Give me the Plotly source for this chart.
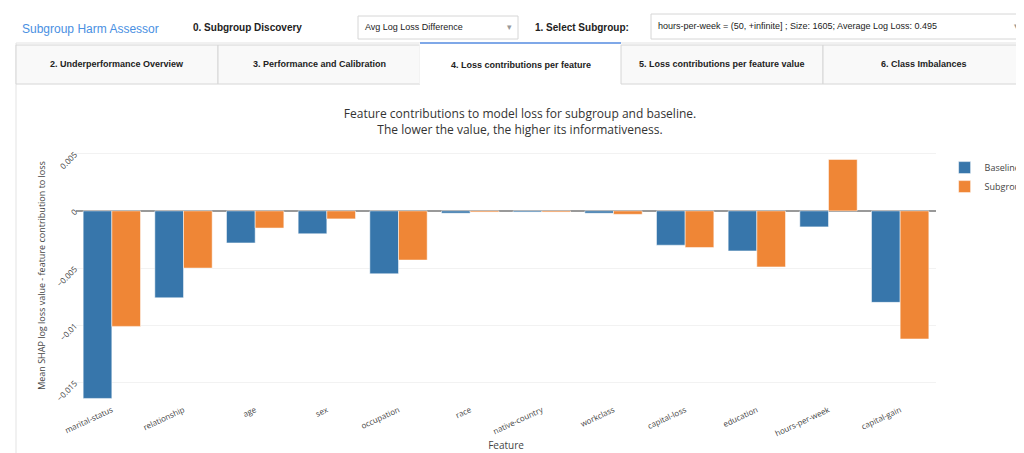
import plotly.graph_objects as go

features = ["marital-status", "relationship", "age", "sex", "occupation", "race",
            "native-country", "workclass", "capital-loss", "education",
            "hours-per-week", "capital-gain"]
baseline = [-0.0164, -0.0076, -0.0028, -0.0020, -0.0055, -0.0002,
            -0.0001, -0.0002, -0.0030, -0.0035, -0.0014, -0.0080]
subgroup = [-0.0101, -0.0050, -0.0015, -0.0007, -0.0043, -0.0001,
            -0.0001, -0.0003, -0.0032, -0.0049, 0.0045, -0.0112]

W, H = 1024, 453
L, R, T, B = 68, 96, 140, 58

def px(x):
    return (x - L) / (W - L - R)

def py(y):
    return (H - B - y) / (H - T - B)

fig = go.Figure()
fig.add_bar(x=features, y=baseline, name="Baseline", marker_color="#3776ab",
            marker_line=dict(color="white", width=0.5))
fig.add_bar(x=features, y=subgroup, name="Subgroup", marker_color="#ef8636",
            marker_line=dict(color="white", width=0.5))

shapes = []
def rect(x0, y0, x1, y1, fill="white", line="#dddddd", w=1):
    shapes.append(dict(type="rect", xref="paper", yref="paper", layer="below",
                       x0=px(x0), x1=px(x1), y0=py(y1), y1=py(y0),
                       fillcolor=fill, line=dict(color=line, width=w)))

# outer frame of the tab content
rect(8, 35, 1016, 452, line="#e3e3e3")
# tabs
tabs = ["2. Underperformance Overview", "3. Performance and Calibration",
        "4. Loss contributions per feature", "5. Loss contributions per feature value",
        "6. Class Imbalances"]
edges = [8, 210, 412, 613, 815, 1016]
ann = []
for i, t in enumerate(tabs):
    active = i == 2
    rect(edges[i], 35 if active else 37, edges[i + 1], 76,
         fill="white" if active else "#f9f9f9",
         line="white" if active else "#d6d6d6")
    ann.append(dict(text=f"<b>{t}</b>",
                    x=px((edges[i] + edges[i + 1]) / 2), y=py(56 if not active else 57),
                    xref="paper", yref="paper", showarrow=False,
                    xanchor="center", yanchor="middle",
                    font=dict(size=9, color="#222", family="Liberation Sans Narrow, Liberation Sans")))
shapes.append(dict(type="line", xref="paper", yref="paper",
                   x0=px(412), x1=px(613), y0=py(35), y1=py(35),
                   line=dict(color="#7fa8e8", width=2)))
# dropdowns
rect(350, 8, 510, 31, line="#d6d6d6")
rect(643, 6, 1015, 31, line="#d6d6d6")

def text(t, x, y, size=11, color="#222", anchor="left"):
    ann.append(dict(text=t, x=px(x), y=py(y), xref="paper", yref="paper",
                    showarrow=False, xanchor=anchor, yanchor="middle",
                    font=dict(size=size, color=color, family="Liberation Sans")))

text("Subgroup Harm Assessor", 12, 21, 12, "#4a90e2")
text("<b>0. Subgroup Discovery</b>", 183, 20, 10)
text("Avg Log Loss Difference", 355, 19, 9)
text("▾", 497, 19, 9, "#999")
text("<b>1. Select Subgroup:</b>", 525, 20, 10)
text("hours-per-week = (50, +infinite] ; Size: 1605; Average Log Loss: 0.495", 648, 18, 9)
text("▾", 1004, 18, 9, "#999")

fig.update_layout(
    width=W, height=H, margin=dict(l=L, r=R, t=T, b=B, autoexpand=False),
    plot_bgcolor="white", paper_bgcolor="white",
    font=dict(family="Open Sans", color="#444", size=9),
    title=dict(text="Feature contributions to model loss for subgroup and baseline.<br>The lower the value, the higher its informativeness.",
               x=0.5, xanchor="center", y=(H - 110) / H,
               yanchor="middle", font=dict(size=12, color="#333")),
    barmode="group", bargap=0.2, bargroupgap=0,
    legend=dict(x=1.01, y=0.98, xanchor="left", yanchor="top", font=dict(size=9)),
    xaxis=dict(title=dict(text="Feature", font=dict(size=10), standoff=4),
               tickangle=-25, tickfont=dict(size=8)),
    yaxis=dict(title=dict(text="Mean SHAP log loss value - feature contribution to loss",
                          font=dict(size=9), standoff=6),
               range=[-0.0168, 0.0055], dtick=0.005, tickangle=-45, tickfont=dict(size=8),
               gridcolor="#f2f2f2", zeroline=True, zerolinecolor="#999", zerolinewidth=1.5),
    shapes=shapes, annotations=ann,
)
fig.write_html("out.html")
